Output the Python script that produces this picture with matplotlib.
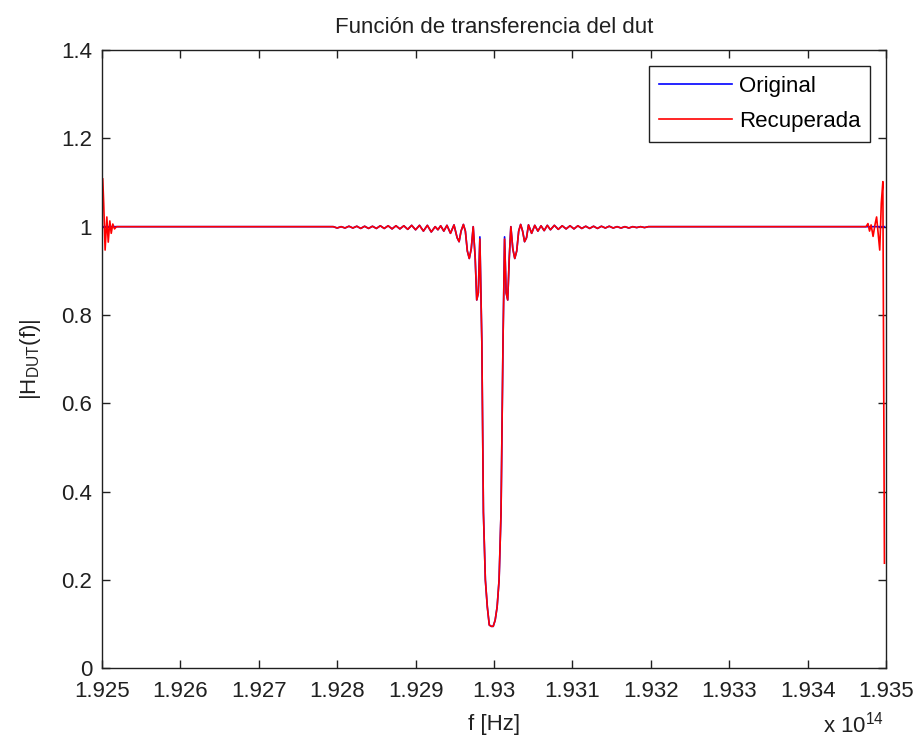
import numpy as np
import matplotlib
matplotlib.use("Agg")
import matplotlib.pyplot as plt
from matplotlib.ticker import FuncFormatter

plt.rcParams['font.family'] = ['Liberation Sans', 'DejaVu Sans']
plt.rcParams['mathtext.default'] = 'regular'

# Frequencies in THz, magnitudes |H_DUT(f)|

# Lower band edge (Gibbs ripple only in the recovered response)
f_left_edge = [192.5010, 192.5022, 192.5040, 192.5062, 192.5080,
               192.5100, 192.5118, 192.5138, 192.5160, 192.5185]
h_left_edge_orig = [1.000, 1.000, 1.000, 1.000, 1.000,
                    1.000, 1.000, 1.000, 1.000, 1.000]
h_left_edge_rec = [1.108, 1.053, 0.947, 1.022, 0.965,
                   1.013, 0.985, 1.006, 0.995, 1.000]

# Passband, side lobes and the notch (common to both curves)
f_body = [192.5210, 192.7950, 192.800, 192.805, 192.810, 192.815, 192.820,
          192.825, 192.830, 192.835, 192.840, 192.845, 192.850, 192.855,
          192.860, 192.865, 192.870, 192.875, 192.880, 192.885, 192.890,
          192.895, 192.900, 192.905, 192.910, 192.915, 192.920, 192.925,
          192.9285, 192.932, 192.936, 192.940, 192.9445, 192.949, 192.953,
          192.9555, 192.958, 192.961, 192.9635, 192.966, 192.9685, 192.971,
          192.9735, 192.976, 192.978, 192.980,
          192.9845, 192.9865, 192.989, 192.9915, 192.994, 192.9965, 192.999,
          193.0015, 193.004, 193.0065, 193.009, 193.0115,
          193.0155, 193.0175, 193.0195, 193.0215, 193.024, 193.0265, 193.029,
          193.0315, 193.034, 193.0365, 193.039, 193.0415, 193.044, 193.048,
          193.052, 193.056, 193.060, 193.064, 193.068, 193.072, 193.077,
          193.082, 193.087, 193.092, 193.097, 193.102, 193.107, 193.112,
          193.117, 193.122, 193.127, 193.132, 193.137, 193.142, 193.147,
          193.152, 193.157, 193.162, 193.167, 193.172, 193.177, 193.182,
          193.187, 193.192, 193.197, 193.205, 193.4735]
h_body = [1.000, 1.000, 0.997, 1.000, 0.997, 1.001, 0.997,
          1.001, 0.996, 1.001, 0.996, 1.001, 0.996, 1.002,
          0.996, 1.002, 0.995, 1.002, 0.995, 1.002, 0.994,
          1.003, 0.993, 1.003, 0.990, 1.003, 0.988, 1.000,
          0.993, 1.002, 0.990, 1.003, 0.985, 1.004, 0.975,
          0.966, 0.990, 1.005, 0.990, 0.945, 0.928, 0.950,
          1.000, 0.930, 0.834, 0.850,
          0.739, 0.354, 0.200, 0.139, 0.098, 0.095, 0.095,
          0.109, 0.139, 0.200, 0.354, 0.739,
          0.850, 0.834, 0.930, 1.000, 0.950, 0.928, 0.945,
          0.990, 1.005, 0.990, 0.966, 0.975, 1.004, 0.985,
          1.003, 0.990, 1.002, 0.991, 1.003, 0.993, 1.003,
          0.994, 1.002, 0.995, 1.002, 0.995, 1.002, 0.996,
          1.001, 0.996, 1.001, 0.996, 1.001, 0.997, 1.001,
          0.997, 1.000, 0.997, 1.000, 0.997, 1.000, 0.998,
          1.000, 0.998, 1.000, 1.000, 1.000]

# Tops of the notch walls
f_shoulder = [192.982, 193.0135]
h_shoulder_orig = [0.977, 0.977]
h_shoulder_rec = [0.972, 0.972]

# Upper band edge
f_right_edge = [193.4745, 193.4770, 193.4790, 193.4810, 193.4835, 193.4860,
                193.4880, 193.4900, 193.4920, 193.4940, 193.4960, 193.4980]
h_right_edge_orig = [1.000, 1.000, 1.000, 1.000, 1.000, 1.000,
                     1.000, 1.000, 1.000, 1.000, 1.000, 1.000]
h_right_edge_rec = [1.000, 1.007, 0.990, 1.004, 0.978, 1.005,
                    1.022, 0.985, 0.947, 1.053, 1.102, 0.238]

series_labels = ['Original', 'Recuperada']
x_ticks = [1.925, 1.926, 1.927, 1.928, 1.929, 1.930,
           1.931, 1.932, 1.933, 1.934, 1.935]
y_ticks = [0, 0.2, 0.4, 0.6, 0.8, 1.0, 1.2, 1.4]


def assemble(edge_l, body, shoulder, edge_r):
    f = np.concatenate([f_left_edge, f_body, f_shoulder, f_right_edge])
    h = np.concatenate([edge_l, body, shoulder, edge_r])
    order = np.argsort(f)
    return f[order] * 1e12, h[order]


f_orig, h_orig = assemble(h_left_edge_orig, h_body, h_shoulder_orig, h_right_edge_orig)
f_rec, h_rec = assemble(h_left_edge_rec, h_body, h_shoulder_rec, h_right_edge_rec)

fig = plt.figure(figsize=(9.17, 7.40), dpi=100)
ax = fig.add_axes([0.1112, 0.0969, 0.8550, 0.8355])

ax.plot(f_orig, h_orig, color='#0000ff', lw=1.2, label=series_labels[0])
ax.plot(f_rec, h_rec, color='#ff0000', lw=1.2, label=series_labels[1])

ax.set_xlim(1.925e14, 1.935e14)
ax.set_ylim(0, 1.4)
ax.set_xticks([t * 1e14 for t in x_ticks])
ax.set_yticks(y_ticks)
ax.xaxis.set_major_formatter(FuncFormatter(lambda v, p: '%g' % round(v / 1e14, 4)))
ax.yaxis.set_major_formatter(FuncFormatter(lambda v, p: '%g' % round(v, 2)))

ax.tick_params(direction='in', top=True, right=True, length=6, width=1,
               labelsize=16, colors='#202020')
ax.tick_params(axis='x', pad=9)
ax.tick_params(axis='y', pad=7)
for s in ax.spines.values():
    s.set_color('#202020')
    s.set_linewidth(1.0)

ax.set_title('Función de transferencia del dut', fontsize=16, pad=12, color='#202020')
ax.set_xlabel('f [Hz]', fontsize=16, labelpad=9, color='#202020')
ax.set_ylabel('$|H_{DUT}(f)|$', fontsize=16, labelpad=13, color='#202020')
fig.text(0.897, 0.010, r'x 10$^{14}$', fontsize=16, color='#202020')

leg = ax.legend(loc='upper right', fontsize=16, frameon=True, fancybox=False,
                edgecolor='#202020', framealpha=1, handlelength=3.3,
                handletextpad=0.3, borderaxespad=0.7, borderpad=0.45,
                labelspacing=0.65)
leg.get_frame().set_linewidth(1.0)

fig.savefig('out.png', dpi=100, facecolor='white')
